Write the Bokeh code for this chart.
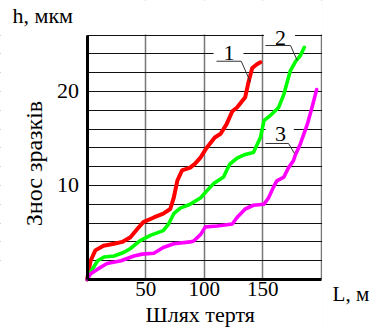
from bokeh.plotting import figure
from bokeh.models import Range1d, FixedTicker, Label
from bokeh.embed import file_html
from bokeh.resources import INLINE
import math

# ---- data ----
red_x = [0, 3, 7, 14, 23, 30, 37, 43, 48, 57, 65, 71, 74, 77, 81, 88, 92, 97, 102, 109, 114, 119, 124, 128, 135, 138, 141, 145, 148]
red_y = [0, 2.0, 3.1, 3.6, 3.8, 4.0, 4.5, 5.4, 6.1, 6.6, 7.0, 7.5, 8.7, 10.5, 11.6, 11.9, 12.3, 13.0, 14.0, 15.1, 15.5, 16.5, 17.9, 18.3, 19.4, 21.1, 22.5, 22.9, 23.1]

green_x = [0, 3, 9, 14.5, 23, 31.6, 37, 45, 54, 65, 69.5, 74, 79.5, 88, 97, 102, 108, 116.5, 119.5, 122, 128, 135, 142, 148, 151, 156, 163.5, 168, 173.5, 178, 182, 185.5]
green_y = [0, 0.8, 2.0, 2.4, 2.5, 2.9, 3.3, 4.1, 4.7, 5.2, 5.9, 7.0, 7.6, 8.0, 8.7, 9.4, 10.2, 10.9, 11.7, 12.3, 12.9, 13.3, 13.5, 15.1, 16.9, 17.4, 18.3, 19.7, 22.2, 23.2, 23.8, 24.7]

mag_x = [0, 3, 9, 17, 29, 40, 47, 57, 65, 74, 88, 91, 97, 101, 111, 124, 128, 135, 142, 151, 155, 159, 162, 168, 172, 176, 178, 182, 188, 192, 196]
mag_y = [0, 0.6, 1.1, 1.7, 2.0, 2.5, 2.7, 2.8, 3.4, 3.8, 4.0, 4.1, 4.8, 5.6, 5.7, 5.9, 6.6, 7.5, 7.9, 8.0, 8.7, 9.8, 10.5, 10.9, 11.9, 12.6, 13.3, 14.4, 16.5, 18.3, 20.2]

x_ticks = [50, 100, 150]
y_ticks = [10, 20]
x_grid = [50, 100, 150, 200]
y_grid = list(range(2, 27, 2))
x_max = 200
y_max = 26

curve_names = ["1", "2", "3"]
curve_label_pos = [(121.2, 24.1), (165.2, 25.69), (165.2, 15.53)]
leader_xs = [[110.5, 131.6, 139.5], [152.3, 173.7, 179.4], [152.3, 172.0, 177.1]]
leader_ys = [[23.22, 23.22, 20.99], [24.89, 24.89, 23.30], [14.47, 14.47, 13.40]]
label_box_left = [108, 151, 152.5]
label_box_right = [133.5, 177.5, 176.5]
label_box_bottom = [23.4, 25.0, 14.7]
label_box_top = [25.3, 26.6, 16.6]

x_title = "Шлях тертя"
y_title = "Знос зразків"
x_unit = "L, м"
y_unit = "h, мкм"

FONT = "Liberation Serif"

# full-canvas frame; axes sit at data 0
X_START, X_END = -73.95, 247.1
Y_START, Y_END = -5.106, 29.68

p = figure(width=376, height=327, output_backend="svg", toolbar_location=None,
           x_range=Range1d(X_START, X_END), y_range=Range1d(Y_START, Y_END),
           min_border_left=0, min_border_right=0, min_border_top=0, min_border_bottom=0)
p.title.text = ""
p.outline_line_color = None
p.background_fill_color = "white"
p.border_fill_color = "white"

# grids
p.xgrid.ticker = FixedTicker(ticks=x_grid)
p.ygrid.ticker = FixedTicker(ticks=y_grid)
p.xgrid.grid_line_color = "#777777"
p.xgrid.grid_line_width = 1.5
p.ygrid.grid_line_color = "#111111"
p.ygrid.grid_line_width = 1

# axes
for ax in (p.xaxis[0], p.yaxis[0]):
    ax.fixed_location = 0
    ax.axis_line_width = 3
    ax.axis_line_color = "black"
    ax.major_tick_out = 0
    ax.major_tick_in = 0
    ax.minor_tick_out = 0
    ax.minor_tick_in = 0
    ax.major_label_text_font = FONT
    ax.major_label_text_color = "black"
p.xaxis.ticker = FixedTicker(ticks=x_ticks)
p.xaxis.bounds = (0, x_max)
p.xaxis.major_label_text_font_size = "21px"
p.xaxis.major_label_standoff = 2
p.yaxis.ticker = FixedTicker(ticks=y_ticks)
p.yaxis.bounds = (0, y_max)
p.yaxis.major_label_text_font_size = "22px"
p.yaxis.major_label_standoff = 8

# white covers: grid only inside the chart box, and gaps behind curve labels
p.quad(left=[X_START, x_max + 0.65, 0, 0],
       right=[0, X_END, x_max + 0.65, x_max + 0.65],
       bottom=[Y_START, Y_START, y_max + 0.06, Y_START],
       top=[Y_END, Y_END, Y_END, 0],
       fill_color="white", line_color=None)
p.quad(left=label_box_left, right=label_box_right, bottom=label_box_bottom, top=label_box_top,
       fill_color="white", line_color=None)

# curves
p.line(red_x, red_y, line_color="#FF0000", line_width=4, line_join="round", line_cap="round")
p.line(green_x, green_y, line_color="#00FF00", line_width=3.6, line_join="round", line_cap="round")
p.line(mag_x, mag_y, line_color="#FF00FF", line_width=3.6, line_join="round", line_cap="round")

# leaders and curve numbers
p.multi_line(leader_xs, leader_ys, line_color="#333333", line_width=1)
for name, (lx, ly) in zip(curve_names, curve_label_pos):
    p.add_layout(Label(x=lx, y=ly, text=name, text_font=FONT, text_font_size="22px",
                       text_align="center", text_baseline="middle", text_color="black"))

# axis titles / units
p.add_layout(Label(x=-63.7, y=28.12, text=y_unit, text_font=FONT, text_font_size="22px",
                   text_align="left", text_baseline="middle", text_color="black"))
p.add_layout(Label(x=209.6, y=-1.49, text=x_unit, text_font=FONT, text_font_size="21px",
                   text_align="left", text_baseline="middle", text_color="black"))
p.add_layout(Label(x=49.9, y=-3.77, text=x_title, text_font=FONT, text_font_size="22px",
                   text_align="left", text_baseline="middle", text_color="black"))
p.add_layout(Label(x=-45.3, y=12.34, text=y_title, text_font=FONT, text_font_size="24px",
                   angle=math.pi / 2, text_align="center", text_baseline="middle", text_color="black"))

open("out.html", "w").write(file_html(p, INLINE))
